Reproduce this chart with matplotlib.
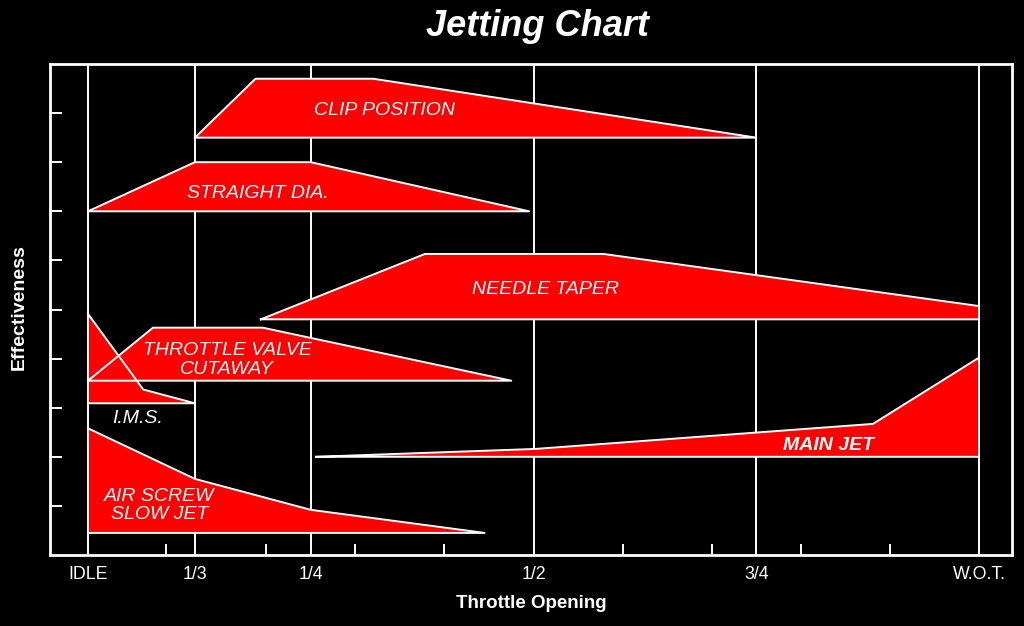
import matplotlib
matplotlib.use("Agg")
import matplotlib.pyplot as plt
from matplotlib import font_manager as fm

# throttle axis: IDLE=0 ... W.O.T.=10, effectiveness 0..10
x_ticks = [0, 1.2, 2.5, 5, 7.5, 10]
x_labels = ["IDLE", "1/3", "1/4", "1/2", "3/4", "W.O.T."]
x_minor = [0.875, 2, 3, 4, 6, 7, 8, 9]
y_ticks = [1, 2, 3, 4, 5, 6, 7, 8, 9]

clip_x = [1.2, 1.88, 3.2, 7.5]
clip_y = [8.5, 9.7, 9.7, 8.5]
straight_x = [0, 1.2, 2.5, 4.95]
straight_y = [7.0, 8.0, 8.0, 7.0]
needle_x = [1.94, 3.78, 5.79, 10, 10]
needle_y = [4.8, 6.13, 6.13, 5.07, 4.8]
throttle_x = [0, 0.73, 1.96, 4.75]
throttle_y = [3.55, 4.63, 4.63, 3.55]
ims_x = [0, 0.62, 1.2, 0]
ims_y = [4.91, 3.37, 3.09, 3.09]
airscrew_x = [0, 1.2, 2.5, 4.45, 0]
airscrew_y = [2.58, 1.55, 0.92, 0.45, 0.45]
mainjet_x = [2.56, 5.02, 8.81, 10, 10]
mainjet_y = [2.0, 2.16, 2.67, 4.02, 2.0]

names = set(f.name for f in fm.fontManager.ttflist)
fam = ["Liberation Sans", "DejaVu Sans"]
narrow = "Liberation Sans Narrow" in names
tickfam = ["Liberation Sans Narrow", "DejaVu Sans"] if narrow else fam

fig = plt.figure(figsize=(10.24, 6.26), dpi=100, facecolor="black")
ax = fig.add_axes([50/1024, 71/626, 962/1024, 491/626], facecolor="black")
ax.set_xlim(-0.4265, 10.37)
ax.set_ylim(0, 10)

for xv in x_ticks:
    ax.axvline(xv, color="white", lw=1.4, zorder=1)

polys = [(clip_x, clip_y), (straight_x, straight_y), (needle_x, needle_y),
         (throttle_x, throttle_y), (ims_x, ims_y), (airscrew_x, airscrew_y),
         (mainjet_x, mainjet_y)]
# fills first, then all outlines so crossing edges stay visible
for px, py in polys:
    ax.fill(px, py, color="red", lw=0, zorder=2)
for px, py in polys:
    ax.plot(list(px) + [px[0]], list(py) + [py[0]], color="white", lw=1.4, zorder=3)

tk = dict(color="white", fontsize=14, style="italic", family=fam, ha="center", va="center", zorder=4)
ax.text(3.33, 9.05, "CLIP POSITION", **tk)
ax.text(1.91, 7.37, "STRAIGHT DIA.", **tk)
ax.text(5.14, 5.40, "NEEDLE TAPER", **tk)
ax.text(1.56, 3.97, "THROTTLE VALVE\nCUTAWAY", linespacing=1.12, **tk)
ax.text(0.56, 2.77, "I.M.S.", **tk)
ax.text(0.80, 1.00, "AIR SCREW\nSLOW JET", linespacing=1.08, **tk)
ax.text(8.31, 2.24, "MAIN JET", color="white", fontsize=14, style="italic", weight="bold",
        family=fam, ha="center", va="center", zorder=4)

ax.set_xticks(x_ticks)
ax.set_xticklabels(x_labels, family=tickfam, fontsize=13.5 if narrow else 12.8, color="white")
ax.set_xticks(x_minor, minor=True)
ax.tick_params(axis="x", which="major", length=0, pad=8)
ax.tick_params(axis="x", which="minor", direction="in", length=8, width=1.4, color="white")
ax.set_yticks(y_ticks)
ax.set_yticklabels([])
ax.tick_params(axis="y", direction="in", length=8.5, width=1.4, color="white")
for s in ax.spines.values():
    s.set_color("white")
    s.set_linewidth(2)

fig.text(0.525, 0.9425, "Jetting Chart", color="white", fontsize=26, style="italic",
         weight="bold", family=fam, ha="center", va="baseline")
fig.text(0.0186, 0.5096, "Effectiveness", color="white", fontsize=14, weight="bold",
         family=fam, rotation=90, ha="center", va="center")
fig.text(0.519, 0.0367, "Throttle Opening", color="white", fontsize=13.5, weight="bold",
         family=fam, ha="center", va="center")

plt.savefig("out.png", dpi=100, facecolor="black")
